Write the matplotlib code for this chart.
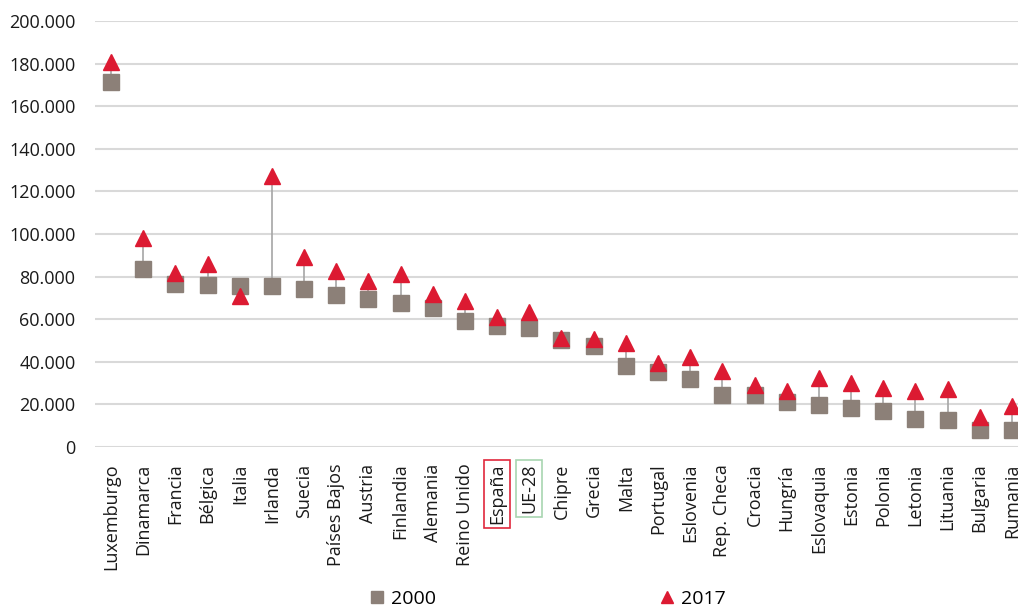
import numpy as np
import matplotlib
matplotlib.use('Agg')
import matplotlib.pyplot as plt
from matplotlib.ticker import FuncFormatter, MultipleLocator

plt.rcParams['font.family'] = ['Open Sans', 'DejaVu Sans']

paises = ['Luxemburgo', 'Dinamarca', 'Francia', 'Bélgica', 'Italia', 'Irlanda',
          'Suecia', 'Países Bajos', 'Austria', 'Finlandia', 'Alemania',
          'Reino Unido', 'España', 'UE-28', 'Chipre', 'Grecia', 'Malta',
          'Portugal', 'Eslovenia', 'Rep. Checa', 'Croacia', 'Hungría',
          'Eslovaquia', 'Estonia', 'Polonia', 'Letonia', 'Lituania',
          'Bulgaria', 'Rumania']

# valores
v2000 = [171300, 83400, 76300, 75900, 75400, 75400, 74000, 71200, 69300,
         67400, 65400, 59000, 56600, 55700, 50000, 47200, 37800, 35400,
         31700, 24600, 24200, 21300, 19900, 18500, 17100, 13300, 12900,
         8200, 8200]
v2017 = [180800, 97900, 81600, 85800, 70900, 127000, 89300, 82500, 78000,
         81300, 71900, 68600, 60900, 63600, 51300, 50500, 48700, 39400,
         42300, 35500, 29200, 26100, 32400, 30000, 27800, 26100, 27200,
         14200, 19200]

col_2000 = '#8C8078'
col_2017 = '#DC1A32'

x = np.arange(len(paises))

fig = plt.figure(figsize=(10.18, 6.07), dpi=100)
ax = fig.add_axes([0.0933, 0.2636, 0.9067, 0.7018])

ax.vlines(x, v2000, v2017, color='#A6A6A6', linewidth=1.2, zorder=2)
ax.plot(x, v2000, linestyle='none', marker='s', markersize=12,
        color=col_2000, label='2000', zorder=3)
ax.plot(x, v2017, linestyle='none', marker='^', markersize=11.5,
        color=col_2017, label='2017', zorder=4)

ax.set_ylim(0, 200000)
ax.set_xlim(-0.5, 28.19)
ax.yaxis.set_major_locator(MultipleLocator(20000))
ax.yaxis.set_major_formatter(FuncFormatter(lambda v, p: f'{v:,.0f}'.replace(',', '.')))
ax.grid(axis='y', color='#D9D9D9', linewidth=1.5, zorder=0)
ax.set_axisbelow(True)
for s in ax.spines.values():
    s.set_visible(False)

ax.set_xticks(x)
ax.set_xticklabels(paises, rotation=90, fontsize=13, color='#1a1a1a')
ax.tick_params(axis='both', length=0)
ax.tick_params(axis='y', labelsize=13, labelcolor='#1a1a1a', pad=14)
ax.tick_params(axis='x', pad=12)

for lbl in ax.get_xticklabels():
    if lbl.get_text() == 'España':
        lbl.set_bbox(dict(facecolor='none', edgecolor='#E0283C', linewidth=1.2, pad=3))
    elif lbl.get_text() == 'UE-28':
        lbl.set_bbox(dict(facecolor='none', edgecolor='#A8D5B0', linewidth=1.2, pad=3))

fig.legend(loc='center', bbox_to_anchor=(0.538, 0.014), ncol=2, frameon=False,
           fontsize=14, handlelength=0.8, handletextpad=0.3, columnspacing=11.5,
           markerscale=0.75)

fig.savefig('out.png', dpi=100)
